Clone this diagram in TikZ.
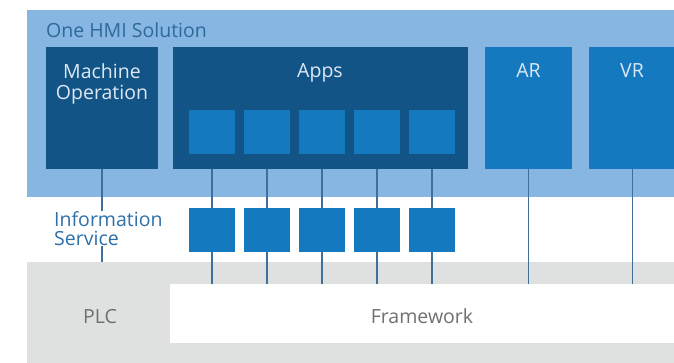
\documentclass[tikz,border=0pt]{standalone}
\usepackage{fontspec}
\setmainfont{Open Sans}
\definecolor{lightband}{HTML}{86B6E1}
\definecolor{navy}{HTML}{135486}
\definecolor{midblue}{HTML}{1479BE}
\definecolor{greyband}{HTML}{DFE0E0}
\definecolor{linecol}{HTML}{3F6F9A}
\definecolor{titlecol}{HTML}{2F6A9C}
\definecolor{infocol}{HTML}{2E70A8}
\definecolor{boxtext}{HTML}{DCE8F4}
\definecolor{greytext}{HTML}{707070}
\tikzset{
  blk/.style={anchor=north west, inner sep=0pt, outer sep=0pt, draw=none},
  navybox/.style={blk, fill=navy},
  bluebox/.style={blk, fill=midblue},
  sq/.style={blk, fill=midblue, minimum width=46pt, minimum height=44pt},
  conn/.style={draw=linecol, line width=1.4pt},
  lbl/.style={font=\fontsize{19.5}{21}\selectfont, inner sep=0pt, anchor=base}
}
\begin{document}
\begin{tikzpicture}[x=1pt,y=-1pt]
\useasboundingbox (0,0) rectangle (674,363);
% bands
\node[blk, fill=lightband, minimum width=647pt, minimum height=187pt] (hmi) at (27,10) {};
\node[blk, fill=greyband, minimum width=647pt, minimum height=101pt] (plcband) at (27,262) {};
\node[blk, fill=white, minimum width=504pt, minimum height=59pt] (fw) at (170,284) {};
% boxes
\node[navybox, minimum width=112pt, minimum height=122pt] (mo) at (46,47) {};
\node[navybox, minimum width=295pt, minimum height=122pt] (apps) at (173,47) {};
\node[bluebox, minimum width=87pt, minimum height=122pt] (ar) at (485,47) {};
\node[bluebox, minimum width=87pt, minimum height=122pt] (vr) at (589,47) {};
% squares
\foreach \i/\x in {1/189,2/244,3/299,4/354,5/409}{
  \node[sq] (app\i) at (\x,110) {};
  \node[sq] (inf\i) at (\x,208) {};
}
% connectors
\foreach \i in {1,...,5}{
  \draw[conn] (app\i.south |- apps.south) -- (inf\i.north);
  \draw[conn] (inf\i.south) -- (inf\i.south |- fw.north);
}
\draw[conn] (ar.south) -- (ar.south |- fw.north);
\draw[conn] (vr.south) -- (vr.south |- fw.north);
\draw[conn] (mo.south) -- (mo.south |- plcband.north);
% texts
\node[lbl, text=titlecol, anchor=base west] (title) at (46,38) {One HMI Solution};
\node[lbl, text=boxtext, align=center] (motext) at (102,100) {Machine\\Operation};
\node[lbl, text=boxtext] (appstext) at (320,78) {Apps};
\node[lbl, text=boxtext] (artext) at (528.5,78) {AR};
\node[lbl, text=boxtext] (vrtext) at (632,78) {VR};
\node[lbl, text=infocol, fill=white, align=left, anchor=base west, inner sep=1pt, font=\fontsize{19.5}{18.5}\selectfont] (infotext) at (53,245) {Information\\Service};
\node[lbl, text=greytext] (plctext) at (100,323) {PLC};
\node[lbl, text=greytext] (fwtext) at (422,323) {Framework};
\end{tikzpicture}
\end{document}
